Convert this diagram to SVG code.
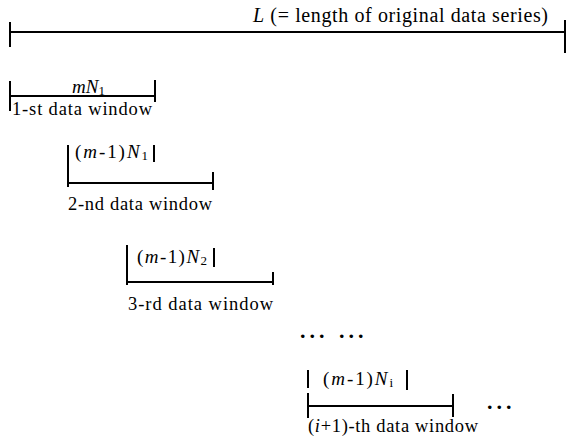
<svg xmlns="http://www.w3.org/2000/svg" width="568" height="443" viewBox="0 0 568 443">
<style>
.ln{stroke:#000;stroke-width:2;fill:none;stroke-linecap:butt}
.t{font-family:"Liberation Serif","Times New Roman",serif;font-size:18.5px;fill:#000}
.big{font-size:20px}
.lab{font-size:19px}
.i{font-style:italic}
.sub{font-size:13px}
.dots{font-family:"Liberation Serif",serif;font-size:22px;font-weight:bold;letter-spacing:4px;fill:#000}
</style>
<g id="series">
<text class="t big" x="253" y="22" textLength="295" lengthAdjust="spacing"><tspan class="i">L</tspan> (= length of original data series)</text>
</g>
<g id="window1">
<text class="t lab" x="72" y="93"><tspan class="i">mN</tspan><tspan class="sub" dy="2">1</tspan></text>
<text class="t" x="12" y="115" textLength="140" lengthAdjust="spacing">1-st data window</text>
</g>
<g id="window2">
<text class="t lab" x="75" y="158" textLength="73" lengthAdjust="spacing">(<tspan class="i">m</tspan>-1)<tspan class="i">N</tspan><tspan class="sub" dy="2">1</tspan></text>
<text class="t" x="68" y="210" textLength="144" lengthAdjust="spacing">2-nd data window</text>
</g>
<g id="window3">
<text class="t lab" x="137" y="263" textLength="70" lengthAdjust="spacing">(<tspan class="i">m</tspan>-1)<tspan class="i">N</tspan><tspan class="sub" dy="2">2</tspan></text>
<text class="t" x="128" y="310" textLength="145" lengthAdjust="spacing">3-rd data window</text>
</g>
<g id="ellipsis1">
<text class="dots" x="300" y="338">...</text>
<text class="dots" x="339" y="338">...</text>
</g>
<g id="window4">
<text class="t lab" x="323" y="385" textLength="70" lengthAdjust="spacing">(<tspan class="i">m</tspan>-1)<tspan class="i">N</tspan><tspan class="sub" dy="2">i</tspan></text>
<text class="t" x="308" y="432" textLength="170" lengthAdjust="spacing">(<tspan class="i">i</tspan>+1)-th data window</text>
</g>
<g id="ellipsis2">
<text class="dots" x="487" y="409">...</text>
</g>
<g id="connectors">
<path class="ln" d="M10 32H565M10 22V47M565 20V53"/>
<path class="ln" d="M10 96H155M10 81V111M155 80V102"/>
<path class="ln" d="M68 183H213M68 145V187M213 172V190M154 145V162"/>
<path class="ln" d="M127 282H273M127 245V285M273 272V285M214 248V267"/>
<path class="ln" d="M308 406H453M308 370V388M308 393V418M453 394V417M407 370V390"/>
</g>
</svg>
